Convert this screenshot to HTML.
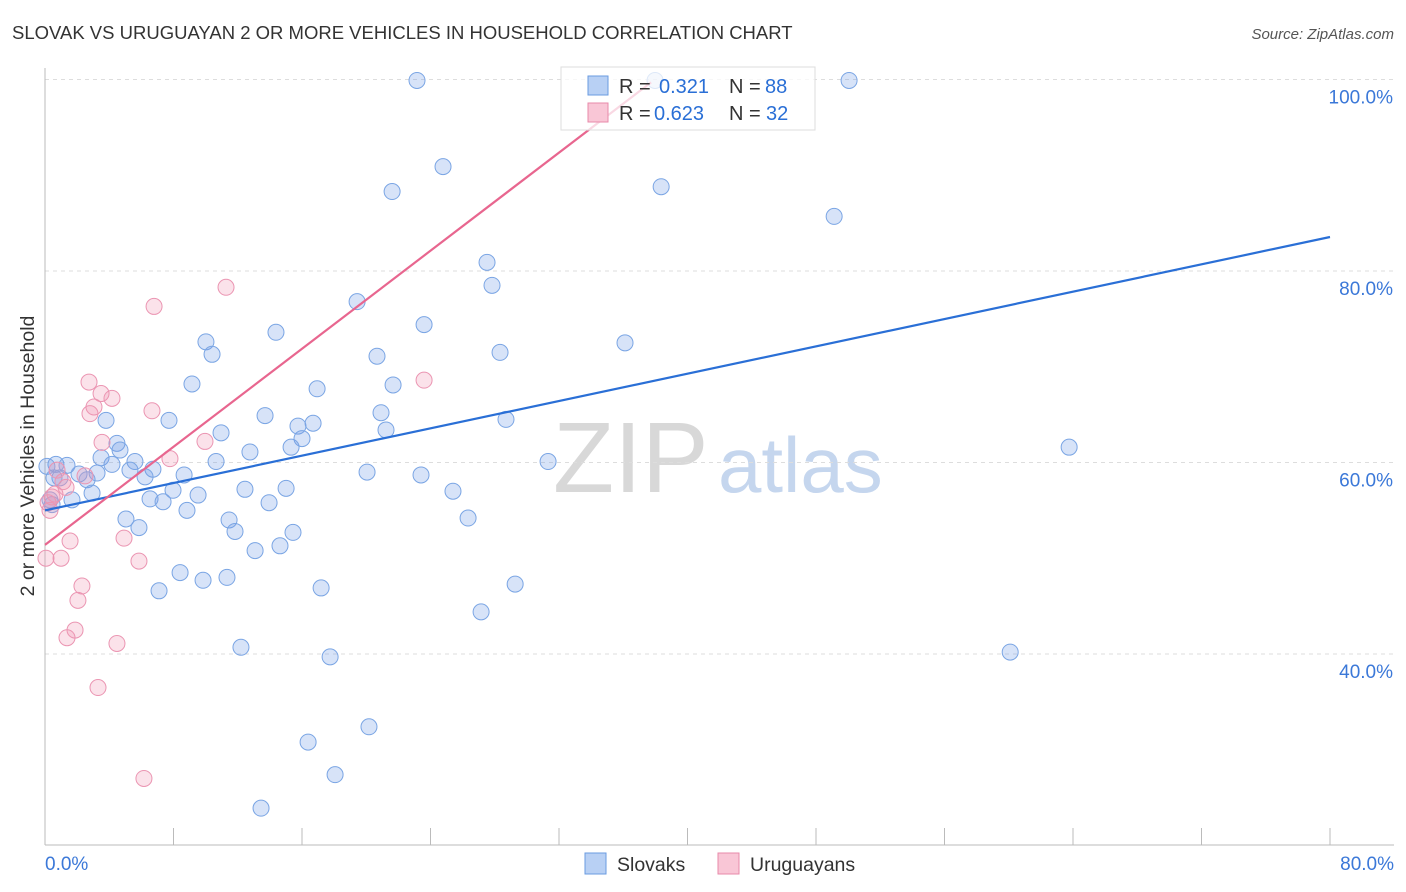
<!DOCTYPE html>
<html><head><meta charset="utf-8">
<style>
body{margin:0;background:#fff;font-family:"Liberation Sans",sans-serif;}
#wrap{position:relative;width:1406px;height:892px;overflow:hidden;}
svg text{font-family:"Liberation Sans",sans-serif;}
</style></head>
<body>
<div id="wrap">
<svg id="chart" width="1406" height="892">
<text x="12" y="39" font-size="18.5" fill="#333">SLOVAK VS URUGUAYAN 2 OR MORE VEHICLES IN HOUSEHOLD CORRELATION CHART</text>
<text x="1394" y="39" font-size="15" fill="#555" text-anchor="end" font-style="italic">Source: ZipAtlas.com</text>
<text transform="translate(34,456) rotate(-90)" font-size="19.5" fill="#333" text-anchor="middle">2 or more Vehicles in Household</text>
<g>
<text x="553" y="492" font-size="100" fill="#d8d8d8" font-family="Liberation Serif">ZIP</text>
<text x="718" y="492" font-size="78" fill="#c5d6ee">atlas</text>
</g>
<g id="grid"></g><g id="axes"></g><g id="pts"></g><g id="lines"></g>
<g>
<rect x="561" y="67" width="254" height="63" fill="#fff" fill-opacity="0.75" stroke="#ddd"/>
<rect x="588" y="76" width="20" height="19" fill="#b8d0f4" stroke="#6a9be0"/>
<rect x="588" y="103" width="20" height="19" fill="#f9c6d6" stroke="#e88aaa"/>
<g font-size="20" fill="#333">
<text x="619" y="93">R =</text>
<text x="659" y="93" fill="#2a6fd6">0.321</text>
<text x="729" y="93">N =</text>
<text x="765" y="93" fill="#2a6fd6">88</text>
<text x="619" y="120">R =</text>
<text x="654" y="120" fill="#2a6fd6">0.623</text>
<text x="729" y="120">N =</text>
<text x="766" y="120" fill="#2a6fd6">32</text>
</g>
</g>
<g>
<rect x="585" y="853" width="21" height="21" fill="#b8d0f4" stroke="#6a9be0"/>
<text x="617" y="871" font-size="19.5" fill="#333">Slovaks</text>
<rect x="718" y="853" width="21" height="21" fill="#f9c6d6" stroke="#e88aaa"/>
<text x="750" y="871" font-size="19.5" fill="#333">Uruguayans</text>
</g>
</svg>
</div>
<script>
const blueX=[23.16,24.78,21.61,38.36,50.06,49.13,27.52,27.83,19.43,23.60,14.38,10.02,10.40,20.67,28.33,36.11,16.94,21.67,9.15,13.70,20.92,15.75,16.69,16.00,21.23,15.32,28.70,7.72,3.80,4.48,4.67,10.96,12.76,3.49,4.17,5.60,5.29,6.72,10.65,20.05,23.41,31.32,63.76,0.68,1.37,0.12,2.12,3.24,0.93,2.62,8.66,6.23,7.97,2.93,6.54,7.35,9.53,12.45,15.01,25.40,1.68,8.84,11.46,13.95,11.83,5.04,5.85,15.44,26.34,14.63,13.08,8.41,9.84,11.33,7.10,17.19,29.27,27.15,12.20,17.75,60.09,16.38,20.17,18.06,13.45,0.56,0.31,0.44,37.98];
const blueY=[99.9,90.9,88.3,88.8,99.9,85.7,80.9,78.5,76.8,74.4,73.6,72.6,71.3,71.1,71.5,72.5,67.7,68.1,68.2,64.9,65.2,63.8,64.1,62.5,63.4,61.6,64.5,64.4,64.4,62.0,61.3,63.1,61.1,60.5,59.8,60.1,59.2,59.3,60.1,59.0,58.7,60.1,61.6,59.8,59.7,59.6,58.8,58.9,58.4,58.2,58.7,58.5,57.1,56.8,56.2,55.9,56.6,57.2,57.3,57.0,56.1,55.0,54.0,55.8,52.8,54.1,53.2,52.7,54.2,51.3,50.8,48.5,47.7,48.0,46.6,46.9,47.3,44.4,40.7,39.7,40.2,30.8,32.4,27.4,23.9,58.4,56.1,55.6,99.9];
const pinkX=[11.27,6.79,23.60,2.74,4.17,3.49,3.05,2.80,6.66,3.55,9.96,7.78,2.49,1.12,0.62,0.19,0.31,1.56,4.92,1.0,5.85,0.06,2.30,2.05,1.87,1.37,4.48,3.30,6.16,0.75,0.44,1.31];
const pinkY=[78.3,76.3,68.6,68.4,66.7,67.2,65.8,65.1,65.4,62.1,62.2,60.4,58.6,58.0,56.7,55.8,55.0,51.8,52.1,50.0,49.7,50.0,47.1,45.6,42.5,41.7,41.1,36.5,27.0,59.2,56.4,57.4];
const trendBlue=[55.0,83.55];
const trendPink=[51.4,1.28];
const yTicks=[40,60,80,100];
const xTickLabels=["0.0%","80.0%"];

const X0=45,X1=1330,Y40=654,PXY=9.575;
const sx=v=>X0+v*(X1-X0)/80;
const sy=v=>Y40-(v-40)*PXY;
const NS="http://www.w3.org/2000/svg";
function mk(tag,attrs,parent){const e=document.createElementNS(NS,tag);for(const k in attrs)e.setAttribute(k,attrs[k]);parent.appendChild(e);return e;}
const grid=document.getElementById('grid'),axes=document.getElementById('axes'),pts=document.getElementById('pts'),lines=document.getElementById('lines');
yTicks.forEach(t=>{
 const l=mk('line',{x1:45,x2:1394,y1:sy(t),y2:sy(t),stroke:'#ddd','stroke-dasharray':'4,4'},grid);
 
 
 const tx=mk('text',{x:1393,y:sy(t)+24,'font-size':19,fill:'#3b78d8','text-anchor':'end'},grid);
 tx.textContent=t.toFixed(1)+'%';
 
 
});
const ax=mk('line',{x1:45,x2:1394,y1:845,y2:845,stroke:'#bbb'},axes);


const ay=mk('line',{x1:45,x2:45,y1:68,y2:845,stroke:'#bbb'},axes);


for(let i=0;i<=10;i++){
 const t=mk('line',{x1:sx(i*8),x2:sx(i*8),y1:828,y2:845,stroke:'#bbb'},axes);
 
 
}
const xl0=mk('text',{x:45,y:870,'font-size':19,fill:'#3b78d8'},axes);xl0.textContent=xTickLabels[0];


const xl1=mk('text',{x:1394,y:870,'font-size':19,fill:'#3b78d8','text-anchor':'end'},axes);xl1.textContent=xTickLabels[1];


function dots(xs,ys,fill,stroke,name){
 xs.forEach((x,i)=>{
  const c=mk('circle',{cx:sx(x),cy:sy(ys[i]),r:8,fill:fill,stroke:stroke,'stroke-width':1},pts);
  
  
 });
}
dots(blueX,blueY,'rgba(110,155,230,0.28)','#7aa5e4','slovak-point');
dots(pinkX,pinkY,'rgba(240,150,180,0.28)','#eb95b2','uruguayan-point');
const bl=mk('line',{x1:sx(0),y1:sy(trendBlue[0]),x2:sx(80),y2:sy(trendBlue[1]),stroke:'#2a6fd6','stroke-width':2.2},lines);


const pxEnd=(99.7-trendPink[0])/trendPink[1];
const pl=mk('line',{x1:sx(0),y1:sy(trendPink[0]),x2:sx(pxEnd),y2:sy(trendPink[0]+trendPink[1]*pxEnd),stroke:'#e8668f','stroke-width':2.2},lines);


</script>
</body></html>
